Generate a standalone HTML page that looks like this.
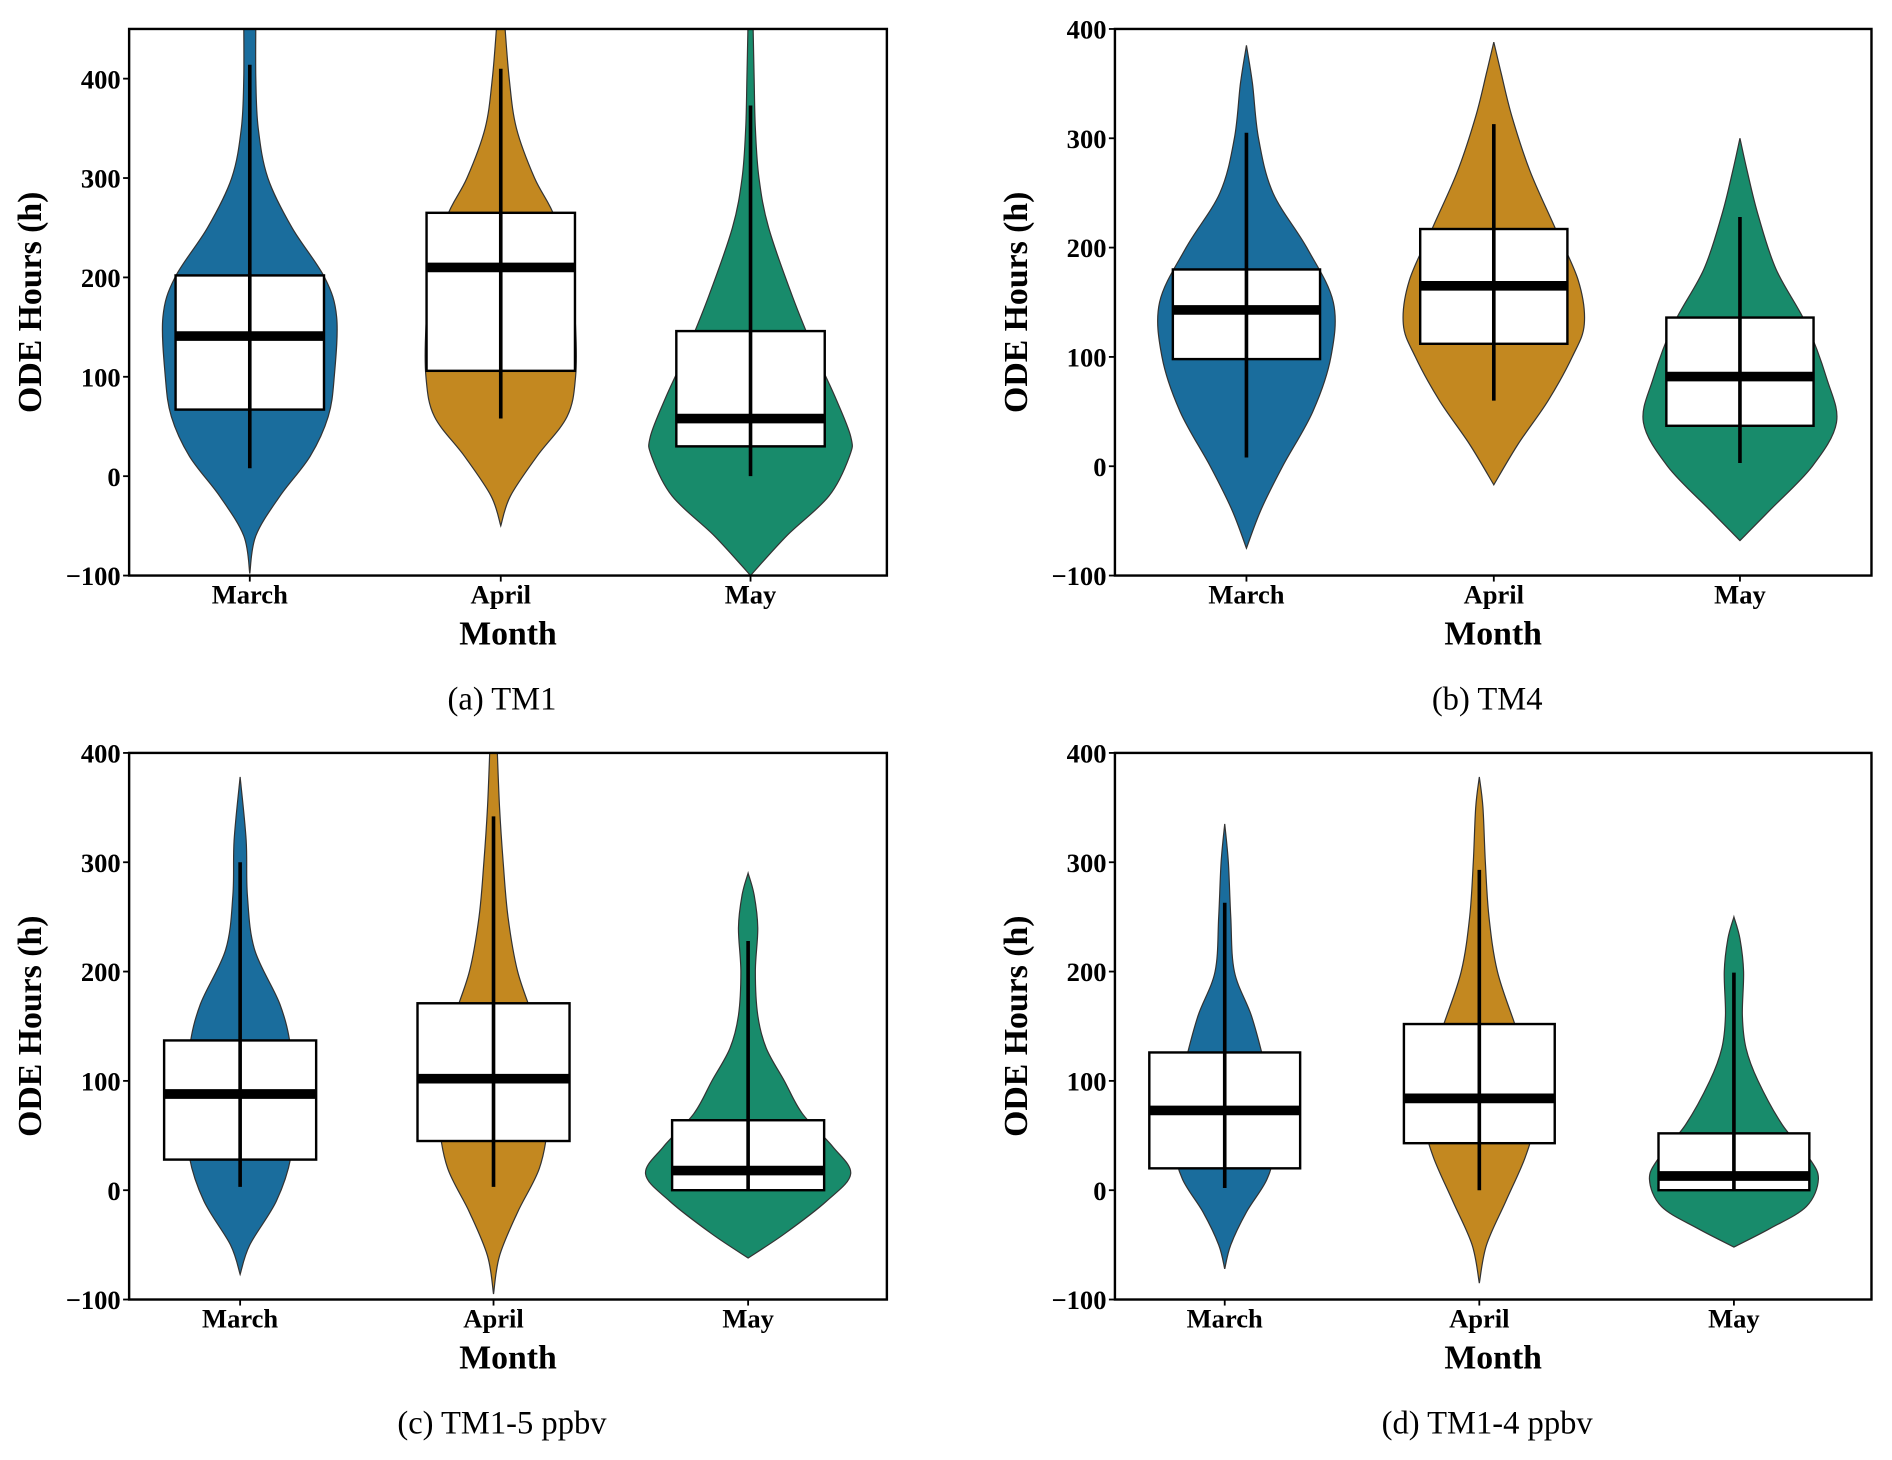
<!DOCTYPE html>
<html><head><meta charset="utf-8"><style>html,body{margin:0;padding:0;background:#fff}svg{display:block}</style></head>
<body>
<svg id="fig" width="1892" height="1460" viewBox="0 0 1568 1210" xmlns="http://www.w3.org/2000/svg" font-family="'Liberation Serif', serif"></svg>
<script>
// ---- data ----
const categories = ["March","April","May"];
const panelTitles = ["(a) TM1","(b) TM4","(c) TM1-5 ppbv","(d) TM1-4 ppbv"];
const yTicks = [-100,0,100,200,300,400];
// box stats per panel: [q1,q3,median,whiskerLo,whiskerHi] per month
const boxA = [[67,202,141,8,414],[106,265,210,58,410],[30,146,58,0,373]];
const boxB = [[98,180,143,8,305],[112,217,165,60,313],[37,136,82,3,228]];
const boxC = [[28,137,88,3,300],[45,171,102,3,342],[0,64,18,0,228]];
const boxD = [[20,126,73,2,263],[43,152,84,0,293],[0,52,13,0,199]];
// violin profiles: [value, density (half-width)]
const violinA = [
 [[-98,0],[-60,5],[-20,25],[20,50],[60,65],[100,70],[160,72],[200,62],[250,35],[300,15],[350,7],[400,5],[460,5]],
 [[-50,0],[-20,8],[20,30],[60,55],[100,62],[150,62],[200,58],[260,45],[300,28],[350,13],[400,7],[460,3]],
 [[-100,0],[-60,30],[-20,65],[20,82],[40,83],[80,70],[120,55],[180,35],[250,15],[300,7],[350,4],[400,3],[460,2]]];
const violinB = [
 [[-75,0],[-40,12],[0,30],[50,55],[100,70],[150,72],[200,50],[250,22],[300,10],[350,5],[385,0]],
 [[-17,0],[20,20],[60,45],[100,65],[130,75],[170,70],[220,50],[270,30],[320,15],[360,6],[388,0]],
 [[-68,0],[-40,25],[0,60],[40,80],[80,72],[130,55],[180,30],[230,15],[270,6],[300,0]]];
const violinC = [
 [[-77,0],[-50,8],[-10,30],[30,42],[80,45],[130,42],[170,33],[220,12],[270,6],[320,5],[378,0]],
 [[-95,0],[-60,5],[-20,20],[20,38],[60,45],[100,45],[150,35],[200,20],[250,12],[300,8],[350,5],[405,3]],
 [[-62,0],[-40,30],[-10,65],[15,85],[40,70],[70,45],[100,30],[130,15],[160,8],[200,6],[240,8],[270,5],[290,0]]];
const violinD = [
 [[-72,0],[-50,5],[-20,18],[10,35],[40,42],[80,40],[120,32],[160,22],[200,8],[250,5],[300,3],[335,0]],
 [[-85,0],[-50,6],[-10,22],[30,38],[60,45],[100,45],[150,30],[200,15],[250,8],[300,5],[350,3],[378,0]],
 [[-52,0],[-35,30],[-15,60],[10,70],[30,62],[60,40],[100,20],[130,10],[160,7],[200,8],[230,5],[250,0]]];
const colors = ["#1a6d9d","#c38820","#188b6b"];

const layout = [
 {l:107,r:735,t:24,b:477,ymin:-100,ymax:450,cx:[207,415,622],bw:123,box:boxA,vio:violinA},
 {l:924,r:1551,t:24,b:477,ymin:-100,ymax:400,cx:[1033,1238,1442],bw:122,box:boxB,vio:violinB},
 {l:107,r:735,t:624,b:1077,ymin:-100,ymax:400,cx:[199,409,620],bw:126,box:boxC,vio:violinC},
 {l:924,r:1551,t:624,b:1077,ymin:-100,ymax:400,cx:[1015,1226,1437],bw:125,box:boxD,vio:violinD}];

const NS="http://www.w3.org/2000/svg";
const svg=document.getElementById('fig');
function mk(tag,attrs,parent){const e=document.createElementNS(NS,tag);for(const k in attrs)e.setAttribute(k,attrs[k]);(parent||svg).appendChild(e);return e;}
function smooth(pts){let d="M"+pts[0][0]+","+pts[0][1];for(let i=0;i<pts.length-1;i++){const p0=pts[Math.max(0,i-1)],p1=pts[i],p2=pts[i+1],p3=pts[Math.min(pts.length-1,i+2)];const c1=[p1[0]+(p2[0]-p0[0])/6,p1[1]+(p2[1]-p0[1])/6],c2=[p2[0]-(p3[0]-p1[0])/6,p2[1]-(p3[1]-p1[1])/6];d+=" C"+c1[0]+","+c1[1]+" "+c2[0]+","+c2[1]+" "+p2[0]+","+p2[1];}return d;}

layout.forEach((P,pi)=>{
  const g=mk('g',{});
  
  
  const y=v=>P.b-(v-P.ymin)/(P.ymax-P.ymin)*(P.b-P.t);
  const clipId='clip'+pi;
  const cp=mk('clipPath',{id:clipId},g);mk('rect',{x:P.l,y:P.t,width:P.r-P.l,height:P.b-P.t},cp);
  const plot=mk('g',{'clip-path':'url(#'+clipId+')'},g);
  categories.forEach((c,i)=>{
    const cx=P.cx[i];
    const prof=P.vio[i];
    const right=prof.map(p=>[cx+p[1],y(p[0])]);
    const left=prof.slice().reverse().map(p=>[cx-p[1],y(p[0])]);
    const sl=smooth(left);
    const d=smooth(right)+" L"+left[0][0]+","+left[0][1]+sl.slice(sl.indexOf(" C"))+" Z";
    const v=mk('path',{d:d,fill:colors[i],stroke:'#333',"stroke-width":1},plot);
    
    
    const b=P.box[i];
    const r=mk('rect',{x:cx-P.bw/2,y:y(b[1]),width:P.bw,height:y(b[0])-y(b[1]),fill:'#fff',stroke:'#000',"stroke-width":2},plot);
    
    
    const w=mk('line',{x1:cx,x2:cx,y1:y(b[3]),y2:y(b[4]),stroke:'#000',"stroke-width":3},plot);
    
    
    const m=mk('line',{x1:cx-P.bw/2,x2:cx+P.bw/2,y1:y(b[2]),y2:y(b[2]),stroke:'#000',"stroke-width":8},plot);
    
    
    mk('line',{x1:cx,x2:cx,y1:P.b,y2:P.b+5,stroke:'#000',"stroke-width":1.5},g);
    const t=mk('text',{x:cx,y:P.b+23,"text-anchor":"middle","font-size":22,"font-weight":"bold"},g);
    t.textContent=c;
    
    
  });
  mk('rect',{x:P.l,y:P.t,width:P.r-P.l,height:P.b-P.t,fill:'none',stroke:'#000',"stroke-width":2},g);
  yTicks.forEach(v=>{
    if(v>P.ymax)return;
    mk('line',{x1:P.l-5,x2:P.l,y1:y(v),y2:y(v),stroke:'#000',"stroke-width":1.5},g);
    const t=mk('text',{x:P.l-7,y:y(v)+8,"text-anchor":"end","font-size":22,"font-weight":"bold"},g);
    t.textContent=v<0?"\u2212"+(-v):String(v);
    
    
  });
  const cxm=(P.l+P.r)/2, cym=(P.t+P.b)/2;
  const yl=mk('text',{x:0,y:0,transform:`translate(${P.l-73},${cym}) rotate(-90)`,"text-anchor":"middle","font-size":28,"font-weight":"bold"},g);
  yl.textContent="ODE Hours (h)";
  
  
  const xl=mk('text',{x:cxm,y:P.b+57,"text-anchor":"middle","font-size":28,"font-weight":"bold"},g);
  xl.textContent="Month";
  
  
  const ct=mk('text',{x:cxm-5,y:P.b+111,"text-anchor":"middle","font-size":27},g);
  ct.textContent=panelTitles[pi];
  
  
});
</script>
</body></html>
